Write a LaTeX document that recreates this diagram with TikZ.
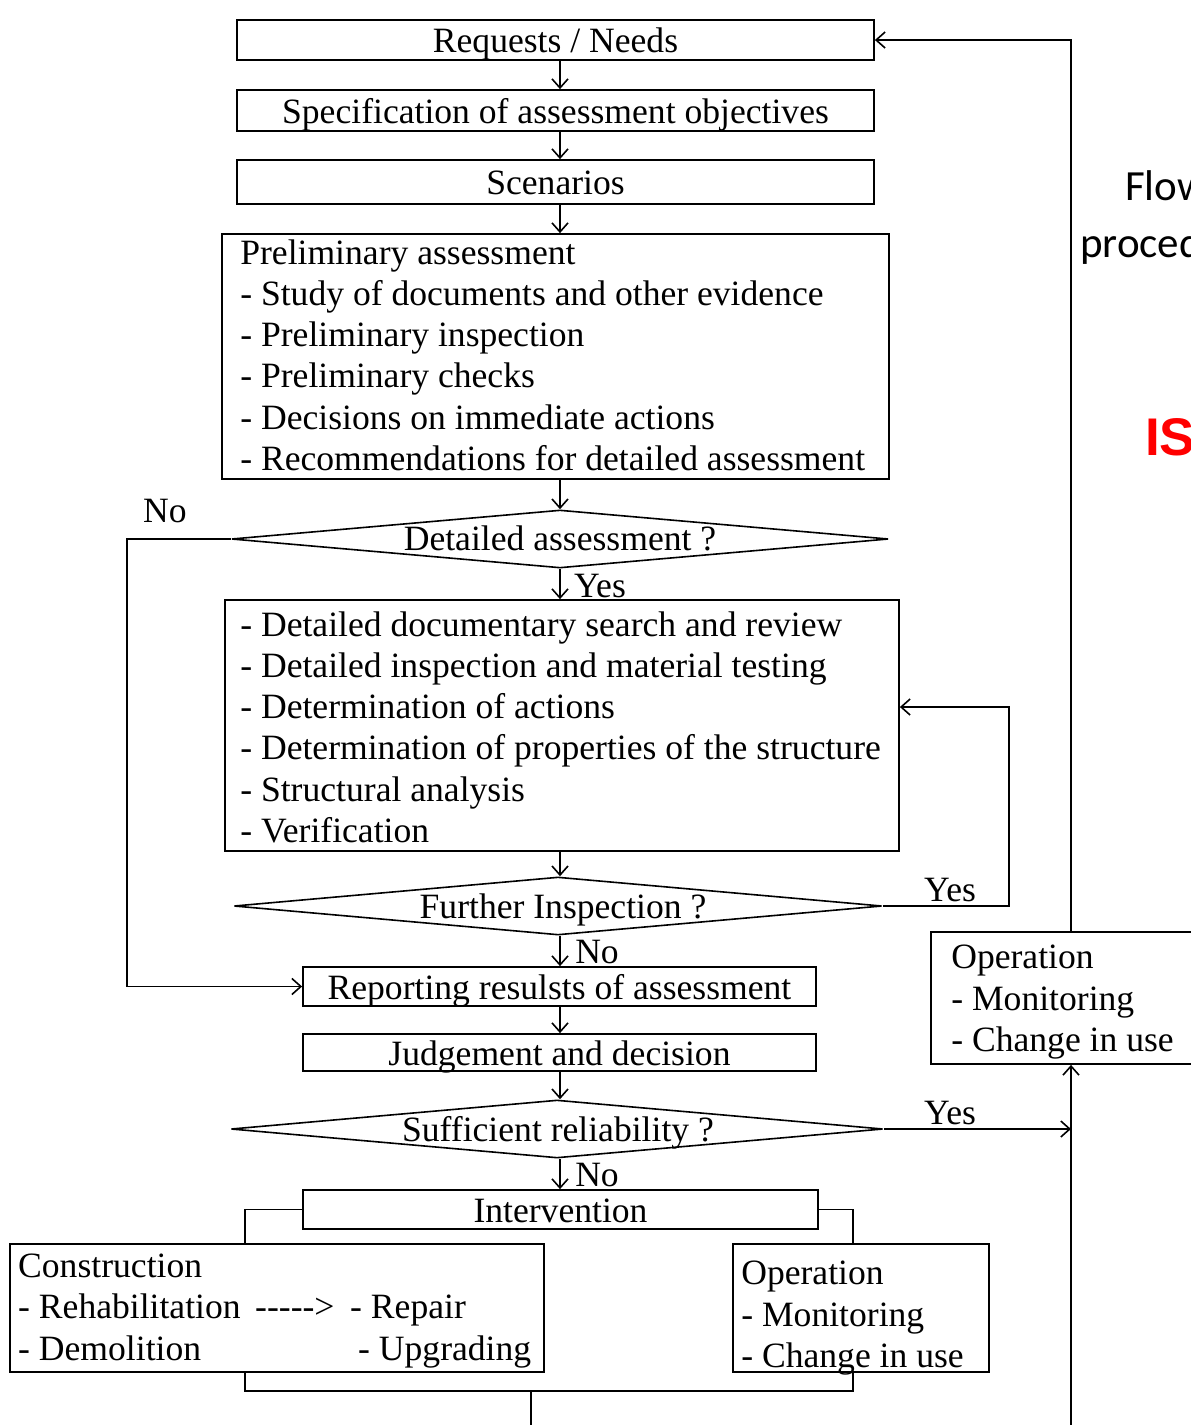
\documentclass[tikz,border=0pt]{standalone}
\usepackage{fontspec}
\setmainfont{Liberation Serif}
\newfontfamily\calibrifont{Carlito}
\newfontfamily\arialfont{Liberation Sans}
\usetikzlibrary{arrows.meta,shapes.geometric}
\newcommand\mainsz{\fontsize{35.6pt}{41.3pt}\selectfont}
\begin{document}
\begin{tikzpicture}[x=1pt,y=-1pt,
  box/.style={draw, line width=1.8pt, inner sep=0pt, font=\mainsz, text height=25pt, text depth=0pt},
  frame/.style={draw, line width=1.8pt, inner sep=0pt},
  dia/.style={draw, diamond, line width=1.6pt, inner sep=0pt},
  txt/.style={inner sep=0pt, font=\mainsz, align=left},
  lbl/.style={inner sep=0pt, font=\mainsz, text height=25pt, text depth=0pt},
  arr/.style={line width=1.8pt, -{Straight Barb[length=9pt,width=16pt,line width=1.6pt]}},
  link/.style={line width=1.8pt}
]
\path[use as bounding box] (0,0) rectangle (1191,1425);
\clip (0,0) rectangle (1191,1425);
\fill[white] (0,0) rectangle (1191,1425);
\coordinate (ax) at (560,0);

\node[box, minimum width=637, minimum height=40] (req) at (555.5,40) {Requests / Needs};
\node[box, minimum width=637, minimum height=41] (spec) at (555.5,110.5) {Specification of assessment objectives};
\node[box, minimum width=637, minimum height=44] (scen) at (555.5,182) {Scenarios};
\node[frame, minimum width=667, minimum height=245] (prel) at (555.5,356.5) {};
\node[txt, anchor=north west] (prelt) at ([xshift=19,yshift=-6]prel.north west) {Preliminary assessment\\- Study of documents and other evidence\\- Preliminary inspection\\- Preliminary checks\\- Decisions on immediate actions\\- Recommendations for detailed assessment};

\node[dia, minimum width=657, minimum height=58] (d1) at (560,539) {};
\node[lbl] (d1t) at (560,538) {Detailed assessment ?};

\node[frame, minimum width=674, minimum height=251] (det) at (562,725.5) {};
\node[txt, anchor=north west] (dett) at ([xshift=16,yshift=-12]det.north west) {- Detailed documentary search and review\\- Detailed inspection and material testing\\- Determination of actions\\- Determination of properties of the structure\\- Structural analysis\\- Verification};

\node[dia, minimum width=648, minimum height=58] (d2) at (558,906) {};
\node[lbl] (d2t) at (563,906) {Further Inspection ?};

\node[box, minimum width=513, minimum height=39] (rep) at (559.5,986.5) {Reporting resulsts of assessment};
\node[box, minimum width=513, minimum height=37] (jud) at (559.5,1052.5) {Judgement and decision};

\node[dia, minimum width=652, minimum height=58] (d3) at (557,1129) {};
\node[lbl] (d3t) at (558,1129) {Sufficient reliability ?};

\node[box, minimum width=515, minimum height=39] (int) at (560.5,1209.5) {Intervention};

\node[frame, minimum width=534, minimum height=128] (con) at (277,1308) {};
\node[lbl, anchor=base west] (c1) at (18,1277) {Construction};
\node[lbl, anchor=base west] (c2) at (18,1318) {- Rehabilitation};
\node[lbl, anchor=base west] (c3) at (255,1318) {-{}-{}-{}-{}->};
\node[lbl, anchor=base west] (c4) at (350,1318) {- Repair};
\node[lbl, anchor=base west] (c5) at (18,1360) {- Demolition};
\node[lbl, anchor=base west] (c6) at (358,1360) {- Upgrading};

\node[frame, minimum width=256, minimum height=128] (opb) at (861,1308) {};
\node[txt, anchor=north west] (opbt) at ([xshift=9,yshift=-18]opb.north west) {Operation\\- Monitoring\\- Change in use};

\node[frame, minimum width=290, minimum height=132] (opr) at (1076,998) {};
\node[txt, anchor=north west] (oprt) at ([xshift=21,yshift=-14]opr.north west) {Operation\\- Monitoring\\- Change in use};

% labels
\node[lbl] (no1) at (165,510) {No};
\node[lbl] (yes1) at (600,585) {Yes};
\node[lbl] (yes2) at (950,889) {Yes};
\node[lbl] (no2) at (597,951) {No};
\node[lbl] (yes3) at (950,1112) {Yes};
\node[lbl] (no3) at (597,1174) {No};

% main flow
\draw[arr] (req.south -| ax) -- (spec.north -| ax);
\draw[arr] (spec.south -| ax) -- (scen.north -| ax);
\draw[arr] (scen.south -| ax) -- (prel.north -| ax);
\draw[arr] (prel.south -| ax) -- (d1.north -| ax);
\draw[arr] (d1.south -| ax) -- (det.north -| ax);
\draw[arr] (det.south -| ax) -- (d2.north -| ax);
\draw[arr] (d2.south -| ax) -- (rep.north -| ax);
\draw[arr] (rep.south -| ax) -- (jud.north -| ax);
\draw[arr] (jud.south -| ax) -- (d3.north -| ax);
\draw[arr] (d3.south -| ax) -- (int.north -| ax);

% branches
\draw[arr] (d1.west) -- ++(-104,0) |- (rep.west);
\draw[arr] (d2.east) -- ++(126,0) |- ([yshift=18.5]det.east);
\coordinate (rb) at (1071,1425);
\draw[arr] (d3.east) -- (d3.east -| rb);
\draw[arr] (rb) -- (rb |- opr.south);
\draw[arr] (rb |- opr.north) |- (req.east);

% intervention
\draw[link] (int.west) -| ([xshift=-32]con.north);
\draw[link] (int.east) -| ([xshift=-8]opb.north);
\draw[link] ([xshift=-32]con.south) -- ++(0,18) -| ([xshift=-8]opb.south);
\coordinate (bj) at (531,1390);
\coordinate (bm) at (531,1425);
\draw[link] (bj) -- (bm);

% right side text
\node[anchor=base west, inner sep=0pt, font=\calibrifont\fontsize{43pt}{50pt}\selectfont] (fl1) at (1125,200) {Flow};
\node[anchor=base west, inner sep=0pt, font=\calibrifont\fontsize{43pt}{50pt}\selectfont] (fl2) at (1080,257) {proced};
\node[anchor=base west, inner sep=0pt, text=red, font=\arialfont\bfseries\fontsize{53pt}{60pt}\selectfont] (iso) at (1145,455) {IS};
\end{tikzpicture}
\end{document}
